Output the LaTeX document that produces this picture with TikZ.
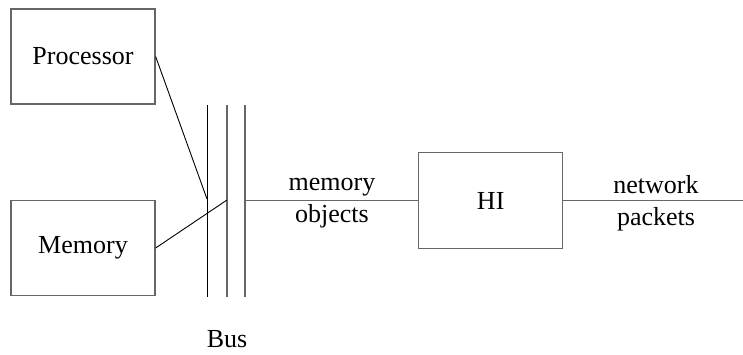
\documentclass[tikz,border=0pt]{standalone}
\usepackage{fontspec}
\setmainfont{Liberation Serif}
\begin{document}
\begin{tikzpicture}[x=1pt,y=-1pt,
  box/.style={draw=black!60,line width=1.3pt,minimum width=144pt,minimum height=95pt,inner sep=0pt,font=\fontsize{26}{30}\selectfont},
  lbl/.style={font=\fontsize{26}{32}\selectfont,align=center,inner sep=0pt},
  thin/.style={draw=black,line width=0.9pt},
  gline/.style={draw=black!60,line width=1.3pt}]
\useasboundingbox (0,0) rectangle (743,354);
\node[box] (proc) at (83,56.5) {Processor};
\node[box] (mem) at (83,248) {Memory};
\node[box,minimum width=144pt,minimum height=95.5pt] (hi) at (490.7,200.5) {HI};
\coordinate (b1t) at (207,105); \coordinate (b1b) at (207,297);
\coordinate (b2t) at (227,105); \coordinate (b2b) at (227,297);
\coordinate (b3t) at (245,105); \coordinate (b3b) at (245,297);
\draw[thin] (b1t) -- (b1b);
\draw[gline] (b2t) -- (b2b);
\draw[gline] (b3t) -- (b3b);
\coordinate (p1) at (207,199);
\coordinate (p2) at (227,200);
\coordinate (p3) at (245,200.5);
\coordinate (out) at (743,200.5);
\draw[thin] (proc.east) -- (p1);
\draw[thin] (mem.east) -- (p2);
\draw[gline] (p3) -- (hi.west);
\draw[gline] (hi.east) -- (out);
\node[lbl] (mo) at (332,203) {memory\\objects};
\node[lbl] (np) at (656,203) {network\\packets};
\node[lbl] (bus) at (227,339) {Bus};
\end{tikzpicture}
\end{document}
